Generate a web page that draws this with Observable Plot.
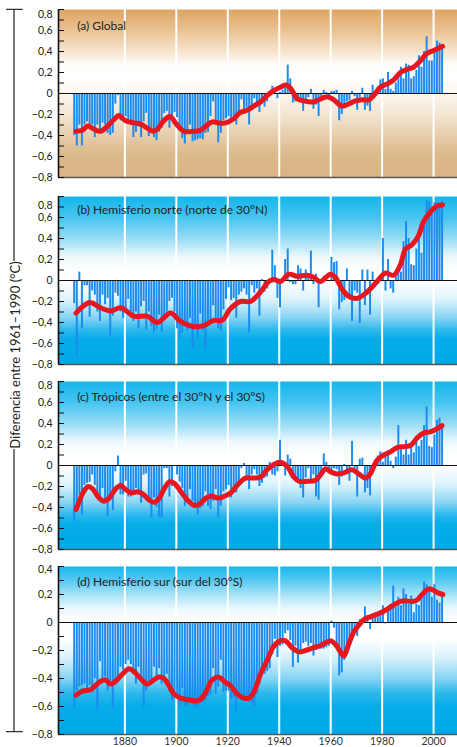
<!DOCTYPE html>
<html><head><meta charset="utf-8">
<script src="https://cdn.jsdelivr.net/npm/d3@7"></script>
<script src="https://cdn.jsdelivr.net/npm/@observablehq/plot@0.6"></script>
<style>
body{margin:0;background:#fff;}
#chart{position:relative;width:457px;height:747px;overflow:hidden;background:#fff;}
#chart svg{position:absolute;left:0;}
</style></head><body><div id="chart"></div>
<script>
// ---------- DATA ----------
const firstYear = 1861; // annual bars 1861–2004
const gridYears = [1880, 1900, 1920, 1940, 1960, 1980, 2000];

const globalValues = [
 -0.40,-0.50,-0.30,-0.50,-0.30,-0.27,-0.31,-0.30,-0.42,-0.30,
 -0.35,-0.28,-0.30,-0.38,-0.40,-0.38,-0.10,-0.02,-0.26,-0.24,
 -0.22,-0.25,-0.30,-0.42,-0.37,-0.32,-0.42,-0.27,-0.19,-0.41,
 -0.34,-0.42,-0.45,-0.37,-0.33,-0.19,-0.17,-0.33,-0.24,-0.18,
 -0.23,-0.36,-0.43,-0.48,-0.37,-0.30,-0.46,-0.45,-0.44,-0.43,
 -0.44,-0.38,-0.37,-0.22,-0.08,-0.30,-0.47,-0.38,-0.26,-0.24,
 -0.22,-0.28,-0.22,-0.30,-0.18,-0.06,-0.15,-0.14,-0.30,-0.12,
 -0.05,-0.10,-0.18,-0.10,-0.13,-0.08,-0.01,0.07,0.01,-0.05,
 0.01,0.03,0.05,0.27,0.14,-0.09,-0.08,-0.05,-0.08,-0.17,
 -0.06,-0.04,0.04,-0.15,-0.11,-0.22,-0.05,0.03,0.01,-0.03,
 0.02,0.02,0.03,-0.26,-0.20,-0.12,-0.08,-0.07,0.02,-0.03,
 -0.16,-0.04,0.05,-0.16,-0.12,-0.17,0.08,-0.03,0.06,0.13,
 0.14,0.04,0.20,0.04,0.02,0.10,0.20,0.25,0.14,0.28,
 0.27,0.14,0.16,0.22,0.36,0.25,0.40,0.54,0.31,0.31,
 0.40,0.50,0.48,0.44];

const nhValues = [
 -0.22,-0.73,0.08,-0.46,-0.05,-0.05,-0.35,-0.10,-0.14,-0.30,
 -0.39,-0.14,-0.23,-0.17,-0.53,-0.34,-0.12,-0.15,-0.30,-0.36,
 -0.30,-0.18,-0.30,-0.39,-0.30,-0.46,-0.25,-0.20,-0.47,-0.30,
 -0.44,-0.50,-0.47,-0.33,-0.49,-0.38,-0.30,-0.20,-0.17,-0.30,
 -0.46,-0.55,-0.50,-0.42,-0.48,-0.36,-0.65,-0.45,-0.55,-0.32,
 -0.48,-0.66,-0.42,-0.40,-0.24,-0.36,-0.46,-0.48,-0.28,-0.18,
 -0.07,-0.19,-0.17,-0.36,-0.14,-0.11,-0.08,-0.14,-0.50,-0.05,
 -0.12,-0.08,-0.34,0.01,-0.11,-0.08,0.00,0.29,0.14,-0.17,
 -0.26,0.00,0.20,0.30,-0.02,-0.04,-0.04,0.14,0.11,-0.10,
 0.10,0.05,0.28,-0.04,0.06,-0.26,0.00,0.04,0.00,-0.01,
 0.22,0.17,0.18,-0.28,-0.21,-0.19,0.11,-0.14,-0.39,-0.10,
 -0.12,-0.41,0.10,-0.24,0.10,-0.33,0.08,-0.04,-0.04,0.05,
 0.40,-0.10,0.20,-0.08,-0.12,0.05,0.09,0.08,0.37,0.56,
 0.40,0.15,0.14,0.30,0.46,0.26,0.52,0.76,0.75,0.70,
 0.74,0.74,0.74,0.75];

const tropValues = [
 -0.53,-0.44,-0.28,-0.47,-0.19,-0.17,-0.16,-0.09,-0.19,-0.27,
 -0.34,-0.22,-0.33,-0.49,-0.31,-0.43,-0.06,0.09,-0.28,-0.28,
 -0.15,-0.30,-0.30,-0.28,-0.22,-0.28,-0.36,-0.09,-0.08,-0.34,
 -0.50,-0.31,-0.40,-0.49,-0.50,-0.03,-0.03,-0.30,-0.20,-0.01,
 -0.09,-0.16,-0.22,-0.39,-0.34,-0.23,-0.34,-0.40,-0.47,-0.41,
 -0.39,-0.25,-0.39,-0.42,-0.34,-0.23,-0.50,-0.39,-0.25,-0.23,
 -0.19,-0.31,-0.26,-0.26,-0.19,-0.03,0.02,-0.12,-0.23,-0.09,
 -0.04,-0.09,-0.20,-0.17,-0.12,-0.11,0.03,-0.09,-0.10,-0.06,
 0.24,0.00,-0.10,0.10,0.06,-0.09,-0.12,-0.16,-0.22,-0.31,
 -0.12,-0.03,-0.16,-0.09,-0.30,-0.33,-0.09,0.11,0.03,-0.03,
 -0.09,-0.03,-0.04,-0.19,-0.11,0.01,-0.09,-0.15,0.23,-0.03,
 -0.30,0.06,0.07,-0.26,-0.22,-0.29,-0.06,0.04,0.09,0.13,
 0.03,0.10,0.14,0.04,-0.03,0.08,0.38,0.18,0.10,0.24,
 0.10,0.20,0.12,0.27,0.18,0.24,0.38,0.56,0.18,0.17,
 0.29,0.43,0.45,0.38];

const shValues = [
 -0.61,-0.49,-0.46,-0.45,-0.44,-0.49,-0.45,-0.47,-0.40,-0.62,
 -0.28,-0.41,-0.39,-0.49,-0.42,-0.61,-0.45,-0.39,-0.32,-0.34,
 -0.30,-0.27,-0.30,-0.36,-0.44,-0.32,-0.40,-0.60,-0.49,-0.43,
 -0.44,-0.32,-0.40,-0.33,-0.44,-0.42,-0.37,-0.49,-0.56,-0.54,
 -0.51,-0.60,-0.47,-0.60,-0.60,-0.56,-0.59,-0.61,-0.61,-0.58,
 -0.57,-0.56,-0.53,-0.52,-0.33,-0.51,-0.46,-0.27,-0.50,-0.49,
 -0.49,-0.55,-0.54,-0.64,-0.51,-0.56,-0.56,-0.55,-0.56,-0.58,
 -0.60,-0.51,-0.44,-0.32,-0.37,-0.35,-0.33,-0.23,-0.12,-0.25,
 -0.17,-0.16,-0.08,-0.06,-0.13,-0.32,-0.17,-0.29,-0.20,-0.15,
 -0.14,-0.17,-0.15,-0.24,-0.20,-0.15,-0.19,-0.19,-0.18,-0.17,
 0.01,-0.04,-0.17,-0.38,-0.36,-0.27,-0.23,-0.15,-0.12,-0.07,
 -0.10,0.02,0.02,0.11,0.05,-0.05,0.06,0.06,0.05,0.06,
 0.12,-0.01,0.10,0.13,0.26,0.11,0.18,0.12,0.24,0.20,
 0.13,0.19,0.07,0.13,0.12,0.18,0.29,0.27,0.25,0.18,
 0.27,0.16,0.14,0.21];

// smoothed (decadal) curves: [year, value]
const globalSmooth = [[1861,-0.36],[1863.5,-0.35],[1865.6,-0.31],[1868,-0.34],[1870.6,-0.36],[1873.2,-0.31],[1875.7,-0.25],[1877.7,-0.21],[1880.3,-0.26],[1883.5,-0.28],[1886,-0.29],[1888.7,-0.33],[1891,-0.36],[1892.6,-0.34],[1895.1,-0.26],[1897.5,-0.22],[1900.3,-0.30],[1903,-0.36],[1906.8,-0.36],[1909.4,-0.35],[1912,-0.30],[1914,-0.27],[1916.5,-0.28],[1919.1,-0.28],[1922.3,-0.24],[1924.9,-0.18],[1927.5,-0.16],[1930.1,-0.12],[1932.7,-0.08],[1935.3,-0.02],[1937.9,0.03],[1940.5,0.06],[1942.4,0.08],[1944.4,0.05],[1947,-0.05],[1949.5,-0.07],[1953.4,-0.08],[1955.3,-0.06],[1958.6,-0.03],[1961.2,-0.06],[1964.4,-0.12],[1967,-0.10],[1969.6,-0.07],[1972.2,-0.06],[1974.8,-0.06],[1976.7,-0.02],[1979.3,0.06],[1981.9,0.09],[1984.5,0.13],[1987.1,0.20],[1989.7,0.23],[1992.2,0.25],[1994.8,0.31],[1997.4,0.38],[2000,0.41],[2003.5,0.45]];
const nhSmooth = [[1861,-0.31],[1863.5,-0.25],[1866.4,-0.21],[1870.6,-0.26],[1874.5,-0.29],[1878.4,-0.26],[1883.5,-0.34],[1888.7,-0.34],[1892.6,-0.40],[1897.8,-0.31],[1901.6,-0.39],[1906.8,-0.44],[1910.7,-0.43],[1914.6,-0.38],[1917.8,-0.38],[1921,-0.27],[1925,-0.20],[1928.8,-0.20],[1932.7,-0.11],[1935.9,-0.01],[1937.9,0.01],[1940.5,-0.01],[1943.7,0.06],[1946.9,0.04],[1950.8,0.05],[1953.4,0.03],[1956,-0.01],[1959.9,0.06],[1961.8,0.03],[1964.4,-0.08],[1967,-0.15],[1970.3,-0.17],[1974.1,-0.11],[1978,-0.01],[1981.2,0.07],[1984.5,0.05],[1987.1,0.15],[1989.1,0.30],[1991.6,0.34],[1994.2,0.43],[1996.1,0.56],[1998.7,0.65],[2001.3,0.71],[2003.5,0.72]];
const tropSmooth = [[1861,-0.42],[1862,-0.36],[1863.5,-0.27],[1865.7,-0.20],[1867.4,-0.22],[1870,-0.31],[1871.9,-0.34],[1873.9,-0.31],[1876.5,-0.22],[1878.4,-0.19],[1880.4,-0.23],[1882.3,-0.26],[1884.9,-0.25],[1886.9,-0.27],[1889.5,-0.33],[1891.4,-0.35],[1893.4,-0.31],[1895.3,-0.22],[1897.3,-0.155],[1899.2,-0.17],[1901.8,-0.25],[1904.4,-0.33],[1907,-0.38],[1908.9,-0.37],[1911.5,-0.31],[1913.5,-0.29],[1916.1,-0.31],[1918,-0.30],[1921.2,-0.26],[1923.6,-0.19],[1926.9,-0.12],[1930.1,-0.12],[1932.7,-0.11],[1935.3,-0.04],[1937.9,0.01],[1940.5,0.03],[1943.1,-0.01],[1945.7,-0.11],[1947.6,-0.15],[1950.8,-0.15],[1954.1,-0.14],[1956,-0.09],[1958,-0.03],[1959.9,-0.06],[1962.5,-0.08],[1965.1,-0.07],[1968.3,-0.04],[1970.9,-0.08],[1973.5,-0.12],[1975.4,-0.08],[1978,0.05],[1980.6,0.10],[1983.2,0.13],[1985.8,0.17],[1988.4,0.18],[1991,0.19],[1993.5,0.26],[1996.1,0.31],[1998.7,0.32],[2000.6,0.34],[2003.3,0.38]];
const shSmooth = [[1861,-0.52],[1863.5,-0.49],[1866.7,-0.48],[1868.6,-0.45],[1870.6,-0.42],[1872.5,-0.41],[1874.4,-0.44],[1876.4,-0.42],[1879,-0.37],[1881.6,-0.33],[1883.5,-0.35],[1886.1,-0.40],[1888.7,-0.44],[1891.3,-0.41],[1893.2,-0.39],[1895.2,-0.40],[1897.1,-0.45],[1899.1,-0.51],[1901.7,-0.54],[1904.3,-0.55],[1907.5,-0.56],[1909.4,-0.55],[1911.4,-0.50],[1914,-0.41],[1916.6,-0.39],[1918.5,-0.42],[1921,-0.45],[1923.6,-0.51],[1926.2,-0.54],[1928.2,-0.54],[1930.1,-0.50],[1932.7,-0.37],[1935.3,-0.27],[1937.9,-0.17],[1940.5,-0.13],[1942.4,-0.13],[1945,-0.18],[1947.6,-0.21],[1950.2,-0.20],[1953.4,-0.18],[1956.6,-0.16],[1959.9,-0.13],[1961.8,-0.155],[1963.8,-0.21],[1965.1,-0.24],[1967,-0.155],[1968.9,-0.07],[1970.9,-0.02],[1972.8,0.02],[1975.4,0.04],[1978,0.06],[1980.6,0.08],[1983.2,0.11],[1985.8,0.14],[1988.4,0.155],[1991.6,0.15],[1993.5,0.16],[1995.5,0.20],[1998.1,0.24],[2000,0.23],[2002,0.21],[2003.6,0.20]];

const ticksFull = [0.8,0.6,0.4,0.2,0,-0.2,-0.4,-0.6,-0.8];
const ticksSH = [0.4,0.2,0,-0.2,-0.4,-0.6,-0.8];
const minorFull = [0.8,0.7,0.6,0.5,0.4,0.3,0.2,0.1,0,-0.1,-0.2,-0.3,-0.4,-0.5,-0.6,-0.7,-0.8];
const minorSH = [0.4,0.3,0.2,0.1,0,-0.1,-0.2,-0.3,-0.4,-0.5,-0.6,-0.7,-0.8];

const titles = ["(a) Global", "(b) Hemisferio norte (norte de 30°N)", "(c) Trópicos (entre el 30°N y el 30°S)", "(d) Hemisferio sur (sur del 30°S)"];
const yTitle = "Diferencia entre 1961–1990 (°C)";

// ---------- STYLE ----------
const FONT = "Lato, 'Open Sans', sans-serif";
const xDomain = [1854.2, 2009.3];
const tanGrad = [[0.8,"#dea463"],[0.6,"#eac293"],[0.4,"#f6e4ce"],[0.27,"#fffdfb"],[0.15,"#ffffff"],[0,"#fbf6ef"],[-0.2,"#f3e5d2"],[-0.4,"#e7cdab"],[-0.58,"#dcb98b"],[-0.8,"#d9b484"]];
const blueGrad = [[0.8,"#14b6ec"],[0.6,"#45c4f0"],[0.4,"#98dcf6"],[0.22,"#eef9fd"],[0.1,"#ffffff"],[0,"#ffffff"],[-0.18,"#dcf3fb"],[-0.35,"#8ad5f4"],[-0.47,"#2cb8ed"],[-0.56,"#05ace8"],[-0.8,"#00a9e6"]];
const blueGradSH = [[0.4,"#18b7ec"],[0.3,"#55c9f1"],[0.2,"#a8e2f8"],[0.1,"#e9f8fd"],[0.02,"#ffffff"],[-0.12,"#ffffff"],[-0.26,"#d4f0fb"],[-0.4,"#86d4f4"],[-0.5,"#2fb9ed"],[-0.6,"#05ace8"],[-0.8,"#00a9e6"]];

const panels = [
  {id:"a", title:titles[0], values:globalValues, smooth:globalSmooth, domain:[-0.8,0.8], labels:ticksFull, minor:minorFull, top:9, grad:tanGrad, titleDy:17, topLabelDy:5},
  {id:"b", title:titles[1], values:nhValues, smooth:nhSmooth, domain:[-0.8,0.8], labels:ticksFull, minor:minorFull, top:196, grad:blueGrad, titleDy:14, topLabelDy:9},
  {id:"c", title:titles[2], values:tropValues, smooth:tropSmooth, domain:[-0.8,0.8], labels:ticksFull, minor:minorFull, top:381, grad:blueGrad, titleDy:16, topLabelDy:4},
  {id:"d", title:titles[3], values:shValues, smooth:shSmooth, domain:[-0.8,0.4], labels:ticksSH, minor:minorSH, top:566, grad:blueGradSH, titleDy:16, topLabelDy:3}
];

const fmt = v => v === 0 ? "0" : (v < 0 ? "\u2212" : "") + Math.abs(v).toFixed(1).replace(".", ",");

const chart = document.getElementById("chart");

// left bracket + rotated title (plain SVG)
const ov = d3.create("svg").attr("width", 457).attr("height", 747).style("top", "0px");
ov.append("path").attr("d", "M6,9.3H22.7M14,9.3V261M14,449V731.7M6,731.7H22.7")
  .attr("stroke", "#333").attr("stroke-width", 1.3).attr("fill", "none");
ov.append("text").attr("transform", "translate(20,355) rotate(-90)").attr("text-anchor", "middle")
  .attr("font-family", FONT).attr("font-size", 13).attr("fill", "#222").text(yTitle);
chart.appendChild(ov.node());

panels.forEach((p, i) => {
  const isLast = i === panels.length - 1;
  const mt = 10, mb = isLast ? 13 : 10, ph = 168;
  const data = p.values.map((v, k) => ({year: firstYear + k, value: v}));
  const gradId = "grad-" + p.id;
  const topLabel = p.labels[0];
  const plot = Plot.plot({
    width: 457, height: ph + mt + mb,
    marginLeft: 58, marginRight: 0, marginTop: mt, marginBottom: mb,
    x: {domain: xDomain, axis: null},
    y: {domain: p.domain, axis: null},
    style: {fontFamily: FONT, background: "transparent", overflow: "visible"},
    marks: [
      Plot.frame({fill: `url(#${gradId})`, stroke: null}),
      Plot.ruleX(gridYears, {stroke: "white", strokeWidth: 2}),
      Plot.rectY(data, {x1: d => d.year - 1, x2: d => d.year, y: "value", fill: "#1a8cf0", insetLeft: 0.3, insetRight: 0.3}),
      Plot.ruleY([0], {stroke: "#111", strokeWidth: 1.2}),
      Plot.line(p.smooth, {x: d => d[0], y: d => d[1], stroke: "#e8161e", strokeWidth: 5, curve: "catmull-rom", strokeLinecap: "round", strokeLinejoin: "round"}),
      Plot.ruleY([p.domain[0]], {stroke: "#555", strokeWidth: 1.3}),
      Plot.ruleX([xDomain[0]], {stroke: "#111", strokeWidth: 1.6}),
      Plot.tickY(p.minor, {y: d => d, stroke: "#111", strokeWidth: 1, insetRight: 393}),
      Plot.text(p.labels.slice(1), {y: d => d, text: fmt, frameAnchor: "left", dx: -6, textAnchor: "end", lineAnchor: "middle", fontSize: 10.5, fill: "#222"}),
      Plot.text([topLabel], {y: d => d, text: fmt, frameAnchor: "left", dx: -6, dy: p.topLabelDy, textAnchor: "end", lineAnchor: "middle", fontSize: 10.5, fill: "#222"}),
      Plot.text([p.title], {frameAnchor: "top-left", dx: 18.7, dy: p.titleDy, textAnchor: "start", lineAnchor: "middle", fontSize: 12, fill: "#222"}),
      isLast ? Plot.text(gridYears, {x: d => d, text: d => String(d), frameAnchor: "bottom", dy: 7, lineAnchor: "middle", fontSize: 10.5, fill: "#333"}) : null
    ]
  });
  const [lo, hi] = p.domain;
  const defs = d3.select(plot).insert("defs", ":first-child");
  const lg = defs.append("linearGradient").attr("id", gradId).attr("x1", 0).attr("y1", 0).attr("x2", 0).attr("y2", 1);
  p.grad.filter(([v]) => v <= hi + 1e-9 && v >= lo - 1e-9)
    .forEach(([v, c]) => lg.append("stop").attr("offset", (hi - v) / (hi - lo)).attr("stop-color", c));
  plot.style.top = (p.top - mt) + "px";
  chart.appendChild(plot);
});
</script></body></html>
